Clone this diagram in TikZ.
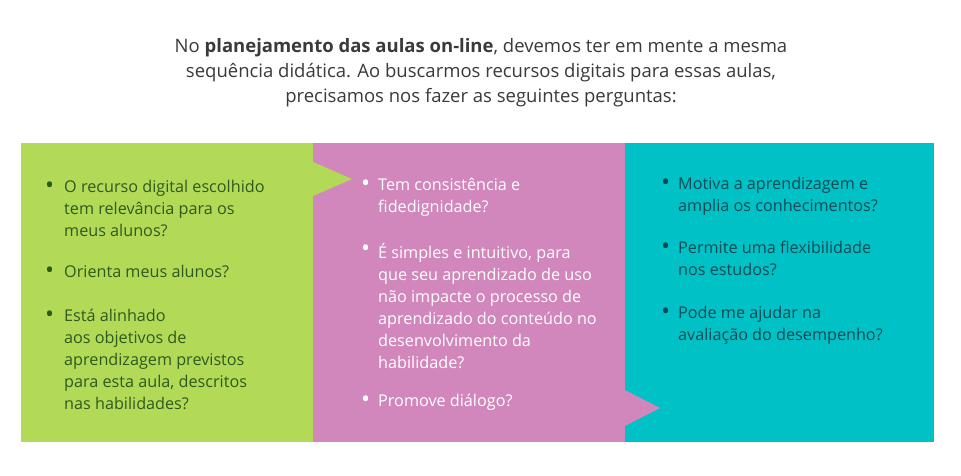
\documentclass[tikz,border=0pt]{standalone}
\usepackage{fontspec}
\setmainfont{Open Sans}
\definecolor{cg}{HTML}{B3DA57}
\definecolor{cp}{HTML}{D187BB}
\definecolor{ct}{HTML}{00C2C6}
\definecolor{tg}{HTML}{2D5A1E}
\definecolor{tt}{HTML}{0C4A55}
\definecolor{tx}{HTML}{3A3A3A}
\tikzset{item/.style={anchor=north west,align=left,inner sep=0pt,font=\fontsize{16.2}{22}\selectfont},
 dot/.style={anchor=north west,inner sep=0pt,yshift=-2pt,font=\fontsize{24}{22}\selectfont}}
\begin{document}
\begin{tikzpicture}[x=1pt,y=-1pt]
\useasboundingbox[fill=white] (0,0) rectangle (961,476);
\node[align=center,text=tx,font=\fontsize{18.5}{25}\selectfont] (title) at (481,73)
 {No \textbf{planejamento das aulas on-line}, devemos ter em mente a mesma\\ sequência didática. Ao buscarmos recursos digitais para essas aulas,\\ precisamos nos fazer as seguintes perguntas:};
\fill[cg] (21,143) rectangle (313,442);
\fill[cp] (313,143) rectangle (625,442);
\fill[ct] (625,143) rectangle (934,442);
\fill[cg] (313,162) -- (352,179) -- (313,196) -- cycle;
\fill[cp] (625,390) -- (660,408) -- (625,426) -- cycle;
% green
\begin{scope}[text=tg]
\node[dot] (g1d) at (45,180) {•};
\node[item] (g1) at (64,180) {O recurso digital escolhido\\tem relevância para os\\meus alunos?};
\node[dot] (g2d) at (45,265) {•};
\node[item] (g2) at (64,265) {Orienta meus alunos?};
\node[dot] (g3d) at (45,309) {•};
\node[item] (g3) at (64,309) {Está alinhado\\aos objetivos de\\aprendizagem previstos\\para esta aula, descritos\\nas habilidades?};
\end{scope}
\begin{scope}[text=white]
\node[dot] (p1d) at (361,178) {•};
\node[item] (p1) at (378,178) {Tem consistência e\\fidedignidade?};
\node[dot] (p2d) at (361,243) {•};
\node[item] (p2) at (378,243) {É simples e intuitivo, para\\que seu aprendizado de uso\\não impacte o processo de\\aprendizado do conteúdo no\\desenvolvimento da\\habilidade?};
\node[dot] (p3d) at (361,394) {•};
\node[item] (p3) at (378,394) {Promove diálogo?};
\end{scope}
\begin{scope}[text=tt]
\node[dot] (t1d) at (661,177) {•};
\node[item] (t1) at (678,177) {Motiva a aprendizagem e\\amplia os conhecimentos?};
\node[dot] (t2d) at (661,241) {•};
\node[item] (t2) at (678,241) {Permite uma flexibilidade\\nos estudos?};
\node[dot] (t3d) at (661,306) {•};
\node[item] (t3) at (678,306) {Pode me ajudar na\\avaliação do desempenho?};
\end{scope}
\end{tikzpicture}
\end{document}
